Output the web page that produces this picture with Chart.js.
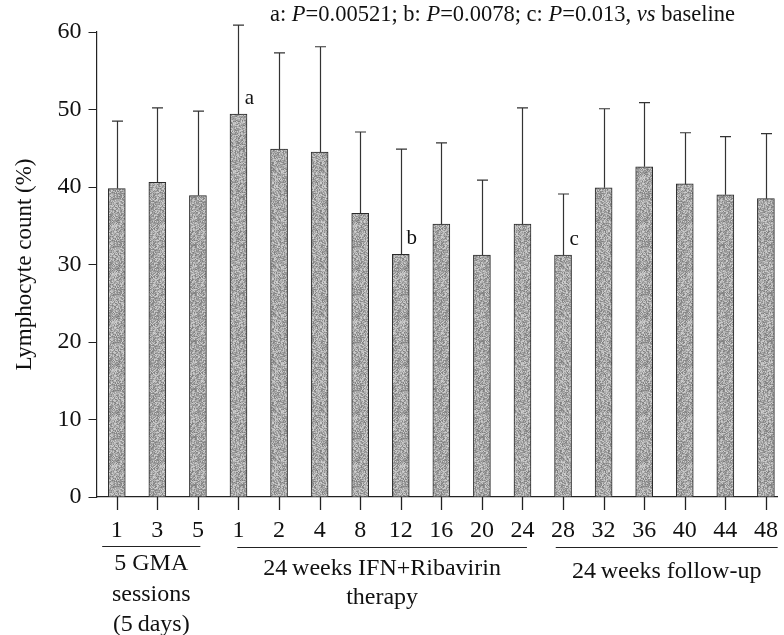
<!DOCTYPE html>
<html><head><meta charset="utf-8">
<script src="https://cdn.jsdelivr.net/npm/chart.js@4.4.1/dist/chart.umd.min.js"></script>
<style>html,body{margin:0;padding:0;background:#fff}#wrap{width:784px;height:635px;position:relative}</style>
</head><body><div id="wrap"><canvas id="c"></canvas></div>
<script>
// ---- data ----
const categories = ['1','3','5','1','2','4','8','12','16','20','24','28','32','36','40','44','48'];
const means = [39.8,40.6,38.9,49.4,44.9,44.5,36.6,31.3,35.2,31.2,35.2,31.2,39.9,42.6,40.4,39.0,38.5];
const sds   = [8.7,9.6,10.9,11.5,12.4,13.6,10.5,13.6,10.5,9.7,15.0,7.9,10.2,8.3,6.6,7.5,8.4];
const markers = ['','','','a','','','','b','','','','c','','','','',''];
const yTicks = [0,10,20,30,40,50,60];
const groupLabels = [['5 GMA','sessions','(5\u2009days)'], ['24\u2009weeks IFN+Ribavirin','therapy'], ['24\u2009weeks follow-up']];
const groupFrom = [0, 3, 11];
const groupTo = [2, 10, 16];
const noteParts = ['a: ','P','=0.00521; b: ','P','=0.0078; c: ','P','=0.013, ','vs',' baseline'];
const noteItalic = [false,true,false,true,false,true,false,true,false];

// ---- styling ----
const SERIF = '"Liberation Serif", "DejaVu Serif", serif';
const INK = '#111';
const bracketPad = [[-0.36, 0.06], [-0.03, 0.11], [-0.18, 0.29]];
const groupTextY = [[564, 595, 625], [569, 598], [572]];
const bracketY = [546, 547, 547];
const X_TICK_LEN = 13;

function makePattern() {
  const c = document.createElement('canvas');
  c.width = 48; c.height = 48;
  const g = c.getContext('2d');
  const img = g.createImageData(48, 48);
  for (let y = 0; y < 48; y++) for (let x = 0; x < 48; x++) {
    let h = (x * 374761393 + y * 668265263) >>> 0;
    h = ((h ^ (h >>> 13)) * 1274126177) >>> 0;
    const n = (h >>> 24) & 255;
    const v = 125 + Math.round(n / 255 * 85);
    const i = (y * 48 + x) * 4;
    img.data[i] = img.data[i+1] = img.data[i+2] = v; img.data[i+3] = 255;
  }
  g.putImageData(img, 0, 0);
  return g.createPattern(c, 'repeat');
}

const extras = {
  id: 'extras',
  afterDraw(chart) {
    const {ctx, scales: {x, y}, chartArea} = chart;
    const meta = chart.getDatasetMeta(0);
    ctx.save();
    // x tick marks at category positions
    ctx.strokeStyle = '#222'; ctx.lineWidth = 1.3;
    categories.forEach((_, i) => {
      const px = Math.round(x.getPixelForValue(i)) + 0.5;
      ctx.beginPath(); ctx.moveTo(px, chartArea.bottom); ctx.lineTo(px, chartArea.bottom + X_TICK_LEN); ctx.stroke();
    });
    // error bars (upper only)
    ctx.strokeStyle = '#333'; ctx.lineWidth = 1.2;
    meta.data.forEach((bar, i) => {
      const cx = Math.round(bar.x) + 0.5;
      const y0 = y.getPixelForValue(means[i]);
      const y1 = y.getPixelForValue(means[i] + sds[i]);
      ctx.beginPath();
      ctx.moveTo(cx, y0); ctx.lineTo(cx, y1);
      ctx.moveTo(cx - 5.5, y1); ctx.lineTo(cx + 5.5, y1);
      ctx.stroke();
    });
    // significance markers
    ctx.fillStyle = INK; ctx.font = '21px ' + SERIF;
    ctx.textAlign = 'center'; ctx.textBaseline = 'middle';
    meta.data.forEach((bar, i) => {
      if (!markers[i]) return;
      ctx.fillText(markers[i], bar.x + 11, y.getPixelForValue(means[i]) - 16);
    });
    // note line
    ctx.textAlign = 'left'; ctx.textBaseline = 'middle';
    let tx = 270;
    noteParts.forEach((t, i) => {
      ctx.font = (noteItalic[i] ? 'italic ' : '') + '22.5px ' + SERIF;
      ctx.fillText(t, tx, 15);
      tx += ctx.measureText(t).width;
    });
    // groups under the axis
    ctx.strokeStyle = '#222'; ctx.lineWidth = 1.2;
    ctx.font = '24px ' + SERIF; ctx.textAlign = 'center';
    groupLabels.forEach((lines, g) => {
      const xa = x.getPixelForValue(groupFrom[g] + bracketPad[g][0]);
      const xb = x.getPixelForValue(groupTo[g] + bracketPad[g][1]);
      ctx.beginPath(); ctx.moveTo(xa, bracketY[g] + 0.5); ctx.lineTo(xb, bracketY[g] + 0.5); ctx.stroke();
      lines.forEach((t, k) => ctx.fillText(t, (xa + xb) / 2, groupTextY[g][k]));
    });
    ctx.restore();
  }
};

new Chart(document.getElementById('c'), {
  type: 'bar',
  data: {
    datasets: [{
      data: means.map((v, i) => ({x: i, y: v})),
      backgroundColor: makePattern(),
      borderColor: '#2a2a2a',
      borderWidth: 1,
      barThickness: 17
    }]
  },
  options: {
    responsive: true, maintainAspectRatio: false, animation: false,
    layout: {padding: {top: 32, right: 6, left: 0, bottom: 0}},
    plugins: {legend: {display: false}, tooltip: {enabled: false}},
    scales: {
      x: {
        type: 'linear', min: -0.5, max: 16.29, offset: false,
        afterBuildTicks: axis => { axis.ticks = categories.map((_, i) => ({value: i})); },
        afterFit: s => { s.height = 138; },
        ticks: {callback: v => categories[v], autoSkip: false, maxRotation: 0, padding: 6,
                color: INK, font: {family: SERIF, size: 24}},
        grid: {offset: false, drawOnChartArea: false, drawTicks: true, tickLength: X_TICK_LEN,
               color: 'rgba(0,0,0,0)', tickColor: 'rgba(0,0,0,0)'},
        border: {display: true, color: '#222', width: 1.2}
      },
      y: {
        min: 0, max: 60,
        afterBuildTicks: axis => { axis.ticks = yTicks.map(v => ({value: v})); },
        afterFit: s => { s.width = 96.5; },
        ticks: {padding: 7, color: INK, font: {family: SERIF, size: 24}},
        grid: {drawOnChartArea: false, drawTicks: true, tickLength: 8, color: '#222', tickWidth: 1},
        border: {display: true, color: '#222', width: 1.2},
        title: {display: true, text: 'Lymphocyte count (%)', color: INK,
                font: {family: SERIF, size: 23}, padding: {top: 11, bottom: 0}}
      }
    }
  },
  plugins: [extras]
});
</script></body></html>
